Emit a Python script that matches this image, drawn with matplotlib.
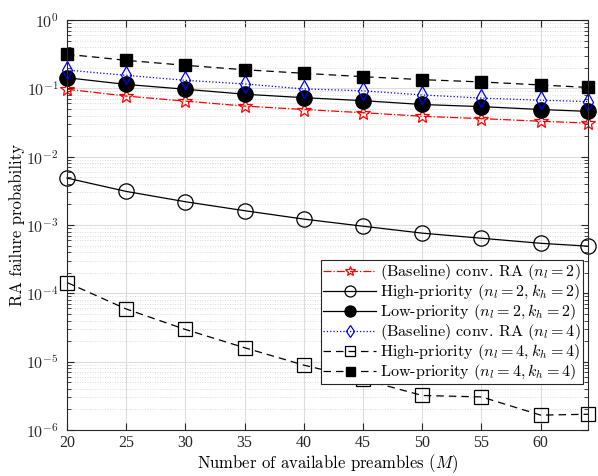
import numpy as np
import matplotlib
matplotlib.use("Agg")
import matplotlib.pyplot as plt
from matplotlib.ticker import LogLocator, NullFormatter

plt.rcParams['mathtext.fontset'] = 'cm'
plt.rcParams['font.family'] = ['cmr10', 'DejaVu Serif']
plt.rcParams['axes.unicode_minus'] = False

M = [20, 25, 30, 35, 40, 45, 50, 55, 60, 64]
base_n2 = [0.097, 0.077, 0.065, 0.055, 0.049, 0.044, 0.039, 0.036, 0.033, 0.031]
high_n2 = [0.00486, 0.0031, 0.00219, 0.00162, 0.00122, 0.00096, 0.00076, 0.00064, 0.00054, 0.00049]
low_n2 = [0.143, 0.114, 0.097, 0.082, 0.073, 0.066, 0.058, 0.054, 0.049, 0.046]
base_n4 = [0.185, 0.155, 0.131, 0.116, 0.098, 0.092, 0.080, 0.072, 0.067, 0.064]
high_n4 = [1.44e-4, 5.9e-5, 2.96e-5, 1.6e-5, 8.9e-6, 5.5e-6, 3.2e-6, 3.05e-6, 1.65e-6, 1.7e-6]
low_n4 = [0.315, 0.257, 0.217, 0.187, 0.166, 0.148, 0.134, 0.124, 0.112, 0.103]

labels = [r'(Baseline) conv. RA ($n_l=2$)',
          r'High-priority ($n_l=2,k_h=2$)',
          r'Low-priority ($n_l=2,k_h=2$)',
          r'(Baseline) conv. RA ($n_l=4$)',
          r'High-priority ($n_l=4,k_h=4$)',
          r'Low-priority ($n_l=4,k_h=4$)']

fig = plt.figure(figsize=(5.98, 4.76), dpi=100)
ax = fig.add_axes([67/598, 1-430/476, (588-67)/598, (430-20)/476])

kw = dict(lw=0.9, clip_on=False)
ax.plot(M, base_n2, color='red', ls='-.', marker='*', ms=10, mfc='none', mec='red', mew=0.9, label=labels[0], **kw)
ax.plot(M, high_n2, color='black', ls='-', marker='o', ms=11, mfc='none', mec='black', mew=0.9, label=labels[1], **kw)
ax.plot(M, low_n2, color='black', ls='-', marker='o', ms=11, mfc='black', mec='black', label=labels[2], **kw)
ax.plot(M, base_n4, color='blue', ls=':', marker='d', ms=9, mfc='none', mec='blue', mew=0.9, label=labels[3], **kw)
ax.plot(M, high_n4, color='black', ls=(0, (6, 4)), marker='s', ms=10, mfc='none', mec='black', mew=0.9, label=labels[4], **kw)
ax.plot(M, low_n4, color='black', ls=(0, (6, 4)), marker='s', ms=9, mfc='black', mec='black', label=labels[5], **kw)

ax.set_yscale('log')
ax.set_xlim(20, 64)
ax.set_ylim(1e-6, 1)
ax.set_xticks([20, 25, 30, 35, 40, 45, 50, 55, 60])
ax.set_xticklabels(['20', '25', '30', '35', '40', '45', '50', '55', '60'], family='Liberation Serif')
yt = [1e-6, 1e-5, 1e-4, 1e-3, 1e-2, 1e-1, 1]
ax.set_yticks(yt)
ax.set_yticklabels([r'$10^{-6}$', r'$10^{-5}$', r'$10^{-4}$', r'$10^{-3}$', r'$10^{-2}$', r'$10^{-1}$', r'$10^{0}$'])
ax.yaxis.set_minor_locator(LogLocator(base=10, subs=np.arange(2, 10), numticks=20))
ax.yaxis.set_minor_formatter(NullFormatter())
ax.tick_params(axis='both', which='both', direction='in', top=True, right=True, labelsize=11.5, colors='#262626')
ax.tick_params(axis='y', which='major', pad=6)
ax.tick_params(which='major', length=5)
ax.tick_params(which='minor', length=3)
ax.grid(True, which='major', color='#dcdcdc', lw=0.8, ls='-')
ax.grid(True, which='minor', axis='y', color='#d0d0d0', lw=0.6, ls=(0, (1, 2)))
ax.set_axisbelow(True)
for s in ax.spines.values():
    s.set_color('#262626')
    s.set_linewidth(0.8)

ax.set_xlabel(r'Number of available preambles ($M$)', fontsize=12, labelpad=1)
ax.set_ylabel('RA failure probability', fontsize=12, labelpad=1)

leg = ax.legend(loc='lower right', bbox_to_anchor=(0.99, 0.112), fontsize=11.6, frameon=True, fancybox=False,
                edgecolor='#262626', framealpha=1, borderpad=0.12, labelspacing=0.0, handlelength=3.3,
                handletextpad=0.25, borderaxespad=0, markerscale=0.72)
leg.get_frame().set_linewidth(0.8)
leg.set_zorder(5)

fig.savefig('out.png', dpi=100)
